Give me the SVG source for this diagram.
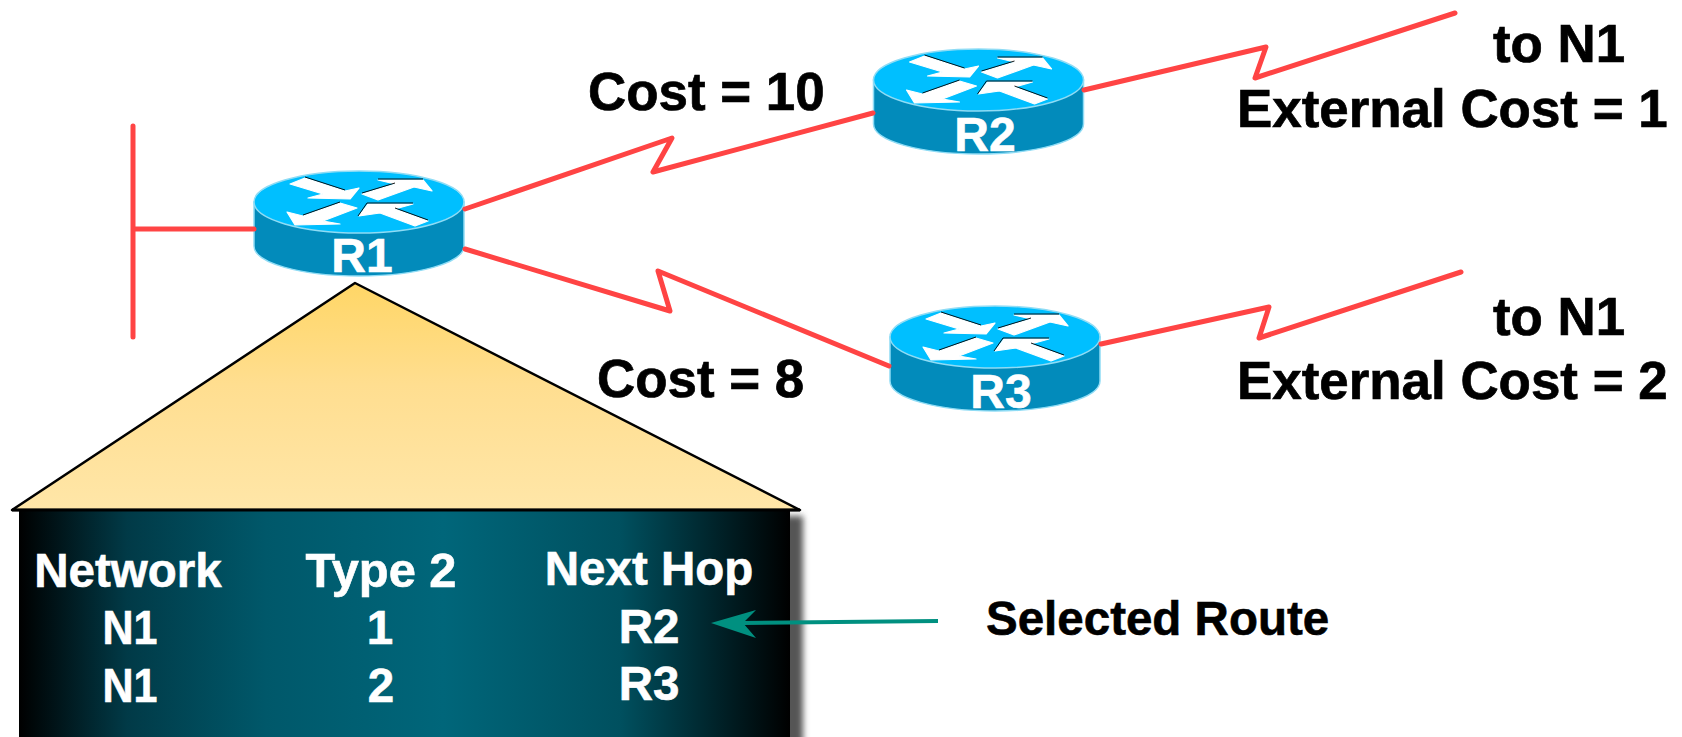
<svg xmlns="http://www.w3.org/2000/svg" width="1682" height="737" viewBox="0 0 1682 737">
<style>
text{font-family:"Liberation Sans",Arial,sans-serif;font-weight:bold}
.k{fill:#000;font-size:52.900px;stroke:#000;stroke-width:0.7px}
.t{fill:#fff;font-size:47.500px;text-anchor:middle;stroke:#fff;stroke-width:0.6px}
.l{fill:none;stroke:#ff4444;stroke-width:5;stroke-linejoin:round;stroke-linecap:round}
.rt{fill:#fff;font-size:48px;text-anchor:middle;stroke:#fff;stroke-width:0.6px}
</style>
<defs>
<linearGradient id="tri" x1="0" y1="0" x2="0" y2="1"><stop offset="0" stop-color="#ffd666"/><stop offset="0.45" stop-color="#ffde90"/><stop offset="1" stop-color="#ffe6a8"/></linearGradient>
<linearGradient id="tab" x1="0" y1="0" x2="1" y2="0"><stop offset="0" stop-color="#000"/><stop offset="0.14" stop-color="#013a47"/><stop offset="0.32" stop-color="#00586a"/><stop offset="0.55" stop-color="#00667a"/><stop offset="0.78" stop-color="#00505f"/><stop offset="1" stop-color="#000"/></linearGradient>
<filter id="sh" x="-5%" y="-5%" width="110%" height="110%"><feGaussianBlur stdDeviation="3"/></filter>
<g id="router">
<path d="M-105 0V44C-105 61-58 74 0 74S105 61 105 44V0Z" fill="#028bbb" stroke="#8fdcf5" stroke-width="1.500"/>
<ellipse cx="0" cy="0" rx="105" ry="31" fill="#00bfff" stroke="#8fdcf5" stroke-width="1.500"/>
<g fill="#fff" stroke="#fff" stroke-width="1.200" stroke-linejoin="round">
<path d="M-69-18-54-24-14-11 0-14-9-3-51-4-36-8Z"/>
<path d="M3-8 36-18 19-22 64-22 73-11 55-15 19-2Z"/>
<path d="M-2 6-19 1-56 14-72 10-64 23-19 22-36 19Z"/>
<path d="M0 14 9 2 54 2 36 7 69 19 56 24 21 11Z"/>
</g>
<g fill="none" stroke="#000" stroke-width="0.9">
<path d="M-54-25-14-12"/><path d="M3-9 36-19M19-23 64-23"/><path d="M-19 0-56 13"/><path d="M-1 14 8 1 54 1"/><path d="M36 6 69 18"/>
</g>
</g>
</defs>
<g id="R1"><use href="#router" x="359" y="202"/><text class="rt" x="362" y="272">R1</text></g>
<g id="R2"><use href="#router" x="978.500" y="80"/><text class="rt" x="985" y="151">R2</text></g>
<g id="R3"><use href="#router" x="995" y="337"/><text class="rt" x="1001" y="408">R3</text></g>
<g id="labels">
<text class="k" x="588" y="110">Cost = 10</text>
<text class="k" x="597" y="397">Cost = 8</text>
<text class="k" x="1493" y="62">to N1</text>
<text class="k" x="1237" y="127">External Cost = 1</text>
<text class="k" x="1493" y="335">to N1</text>
<text class="k" x="1237" y="399">External Cost = 2</text>
<text x="986" y="635" style="font-size:47.500px;stroke:#000;stroke-width:0.6px">Selected Route</text>
</g>
<g id="table">
<rect x="26" y="516" width="777" height="230" fill="#555" filter="url(#sh)"/>
<path d="M355 283 800 510H12Z" fill="url(#tri)" stroke="#000" stroke-width="2.500" stroke-linejoin="round"/>
<rect x="19" y="510" width="771" height="240" fill="url(#tab)"/>
<path d="M12 510H800" stroke="#000" stroke-width="3"/>
<text class="t" x="128" y="587">Network</text>
<text class="t" x="381" y="587" textLength="151" lengthAdjust="spacingAndGlyphs">Type 2</text>
<text class="t" x="649" y="585">Next Hop</text>
<text class="t" x="130" y="644" textLength="55" lengthAdjust="spacingAndGlyphs">N1</text>
<text class="t" x="380" y="644">1</text>
<text class="t" x="649" y="643">R2</text>
<text class="t" x="130" y="702" textLength="55" lengthAdjust="spacingAndGlyphs">N1</text>
<text class="t" x="381" y="702">2</text>
<text class="t" x="649" y="700">R3</text>
</g>
<g id="connectors">
<path class="l" d="M133 126V337M133 229H254"/>
<path class="l" d="M465 209 672 138 653 172 873 113"/>
<path class="l" d="M1084 90 1266 47 1255 78 1455 13"/>
<path class="l" d="M465 249 670 311 658 271 889 366"/>
<path class="l" d="M1101 344 1269 307 1259 338 1461 272"/>
<path d="M743 623 938 621" fill="none" stroke="#009080" stroke-width="4"/>
<path d="M711 623 756 610 743 623 756 638Z" fill="#009080"/>
</g>
</svg>
